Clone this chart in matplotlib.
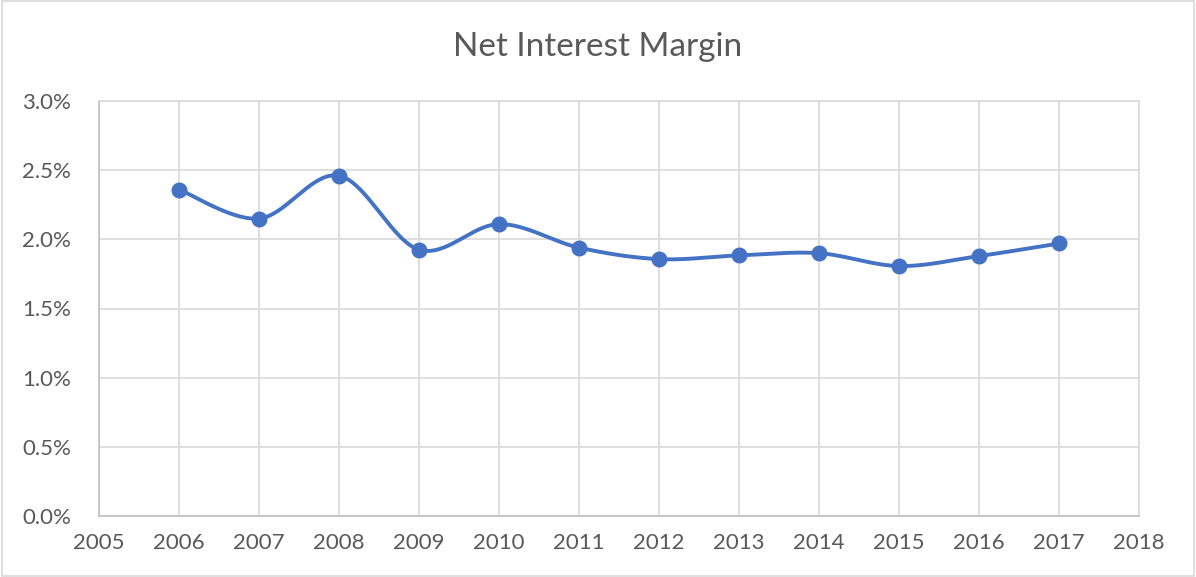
import numpy as np
import matplotlib.pyplot as plt
from matplotlib.patches import Rectangle
from matplotlib.ticker import FuncFormatter

years = [2006, 2007, 2008, 2009, 2010, 2011, 2012, 2013, 2014, 2015, 2016, 2017]
nim = [2.36, 2.15, 2.46, 1.925, 2.11, 1.94, 1.857, 1.884, 1.90, 1.807, 1.879, 1.97]

blue = '#4472C4'
grey_text = '#595959'
grid_col = '#d9d9d9'


def smooth(x, y, n=40):
    # excel style smoothed line: cubic bezier with catmull-rom control points
    x = np.asarray(x, float)
    y = np.asarray(y, float)
    px = np.concatenate([[x[0]], x, [x[-1]]])
    py = np.concatenate([[y[0]], y, [y[-1]]])
    xs, ys = [], []
    t = np.linspace(0, 1, n)
    for i in range(1, len(px) - 2):
        p0 = np.array([px[i], py[i]])
        p3 = np.array([px[i + 1], py[i + 1]])
        p1 = p0 + (np.array([px[i + 1], py[i + 1]]) - np.array([px[i - 1], py[i - 1]])) / 6
        p2 = p3 - (np.array([px[i + 2], py[i + 2]]) - np.array([px[i], py[i]])) / 6
        b = ((1 - t) ** 3)[:, None] * p0 + (3 * (1 - t) ** 2 * t)[:, None] * p1 \
            + (3 * (1 - t) * t ** 2)[:, None] * p2 + (t ** 3)[:, None] * p3
        xs.extend(b[:, 0])
        ys.extend(b[:, 1])
    return xs, ys


plt.rcParams['font.family'] = ['Lato', 'DejaVu Sans']

fig = plt.figure(figsize=(11.96, 5.77), dpi=100)
ax = fig.add_axes([99 / 1196, 61 / 577, 1040 / 1196, 415 / 577])

sx, sy = smooth(years, nim)
ax.plot(sx, sy, color=blue, lw=2.8, solid_capstyle='round', zorder=3)
ax.plot(years, nim, 'o', color=blue, ms=10.5, zorder=4)

ax.set_xlim(2005, 2018)
ax.set_ylim(0, 3.0)
ax.set_xticks(range(2005, 2019))
ax.set_yticks(np.arange(0, 3.01, 0.5))
ax.yaxis.set_major_formatter(FuncFormatter(lambda v, p: f'{v:.1f}%'))

ax.grid(True, color=grid_col, lw=1.2)
ax.set_axisbelow(True)
for s in ['top', 'right']:
    ax.spines[s].set_color(grid_col)
    ax.spines[s].set_linewidth(1.2)
for s in ['left', 'bottom']:
    ax.spines[s].set_color('#bfbfbf')
    ax.spines[s].set_linewidth(1.2)
ax.tick_params(length=0, labelsize=16, colors=grey_text, pad=12)
ax.tick_params(axis='y', pad=20)

fig.text(0.5, 1 - 47 / 577, 'Net Interest Margin', fontsize=24, color=grey_text,
         ha='center', va='center')

fig.patches.append(Rectangle((0.002, 0.002), 0.996, 0.996, transform=fig.transFigure,
                             fill=False, edgecolor='#d9d9d9', lw=1.2))

fig.savefig('out.png', dpi=100)
